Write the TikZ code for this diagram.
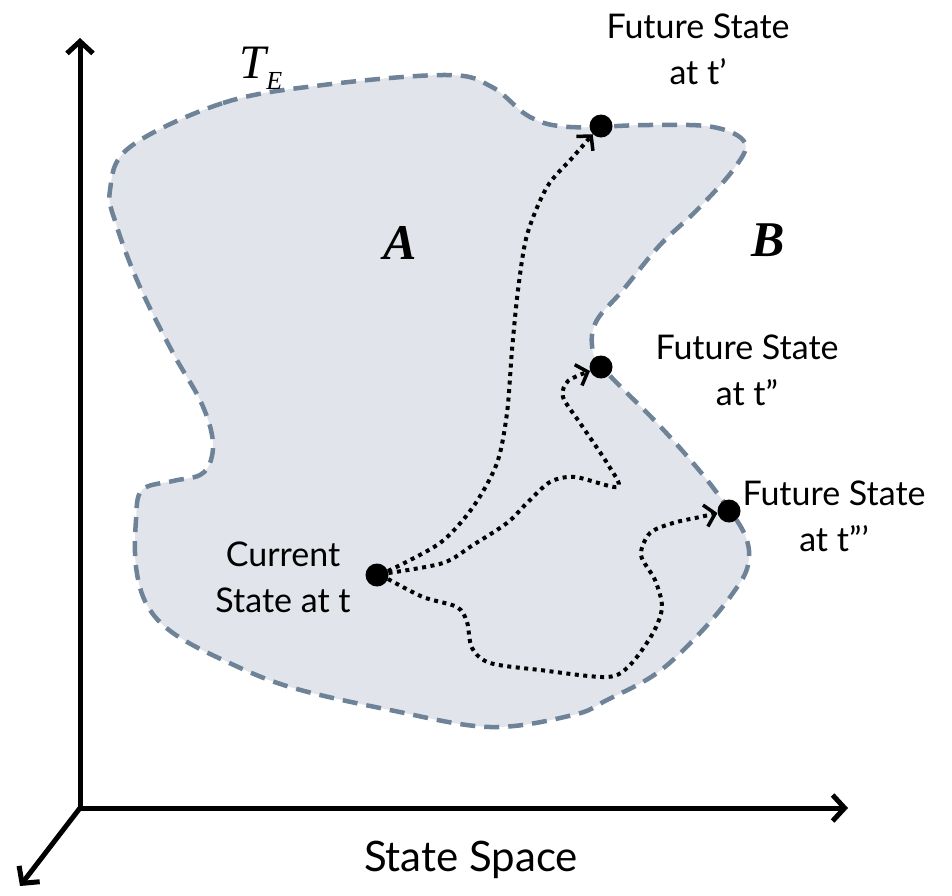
\documentclass[tikz,border=0pt]{standalone}
\usepackage{fontspec}
\setmainfont{Lato}
\newfontfamily\mathserif{Liberation Serif}
\usetikzlibrary{arrows.meta}
\definecolor{region}{HTML}{E1E4EA}
\definecolor{rim}{HTML}{6E8398}
\tikzset{
  axis/.style={line width=5pt,line cap=round},
  traj/.style={line width=4pt,dash pattern=on 4pt off 4.5pt,
    -{Straight Barb[length=10pt,width=22pt,line width=3.5pt]}},
  state dot/.style={circle,fill=black,inner sep=0pt,minimum size=23pt},
  lbl/.style={align=center,font=\fontsize{34}{46}\selectfont},
}
\begin{document}
\begin{tikzpicture}[x=1pt,y=-1pt]
  \useasboundingbox (0,0) rectangle (952,895);
  % reachable set T_E
  \draw[fill=region,draw=rim,line width=4.5pt,dash pattern=on 15pt off 9pt]
    plot[smooth cycle,tension=0.6] coordinates {
      (130,147) (223,103) (323,85) (447,75) (492,87) (530,117) (570,127)
      (647,125) (713,127) (745,143) (733,170) (697,210) (660,245) (623,290)
      (597,320) (592,345) (602,367) (657,423) (693,463) (720,497) (745,535)
      (748,565) (733,593) (700,633) (657,673) (607,700) (573,715) (490,727)
      (390,710) (290,687) (223,660) (173,633) (147,605) (136,567) (136,520)
      (142,490) (173,481) (200,475) (211,460) (212,435) (200,400) (173,353)
      (140,287) (117,227) (110,190)};
  % axes
  \coordinate (o) at (80,808);
  \coordinate (ytop) at (80,38);
  \coordinate (xend) at (848,808);
  \coordinate (zend) at (20,886);
  \draw[axis,line join=miter,{Straight Barb[length=12pt,width=26pt]}-{Straight Barb[length=12pt,width=26pt]}]
    (ytop) -- (o) -- (xend);
  \draw[axis,-{Straight Barb[length=12pt,width=26pt]}] (o) -- (zend);
  % states
  \node[state dot] (cur) at (377,575) {};
  \node[state dot] (ta) at (601,126) {};
  \node[state dot] (tb) at (601,367) {};
  \node[state dot] (tc) at (729,511) {};
  % trajectories
  \draw[traj] plot[smooth] coordinates {(cur.20) (440,543) (473,507) (497,463)
    (507,413) (512,350) (518,290) (527,235) (547,187) (573,157) (ta.225)};
  \draw[traj] plot[smooth] coordinates {(cur.10) (443,563) (473,545) (507,523)
    (527,503) (550,482) (575,477) (618,487) (607,463) (580,423) (563,397)
    (568,381) (tb.200)};
  \draw[traj] plot[smooth] coordinates {(cur.-20) (423,597) (457,607) (467,622)
    (472,648) (490,663) (540,670) (607,677) (630,665) (653,633) (662,607)
    (655,580) (641,555) (650,533) (673,523) (700,517) (tc.190)};
  % labels
  \node[lbl] (lcur) at (283,577) {Current\\State at t};
  \node[lbl] (la) at (698,49) {Future State\\at t’};
  \node[lbl] (lb) at (747,370) {Future State\\at t”};
  \node[lbl] (lc) at (834,516) {Future State\\at t”’};
  \node[font=\fontsize{42}{46}\selectfont] (space) at (471,860) {State Space};
  \node[font=\mathserif\bfseries\itshape\fontsize{50}{54}\selectfont] (regA) at (400,243) {A};
  \node[font=\mathserif\bfseries\itshape\fontsize{50}{54}\selectfont] (regB) at (768,240) {B};
  \node[font=\mathserif\itshape\fontsize{48}{52}\selectfont] (te) at (261,68)
    {T\raisebox{-11pt}{\fontsize{26}{30}\selectfont E}};
\end{tikzpicture}
\end{document}
